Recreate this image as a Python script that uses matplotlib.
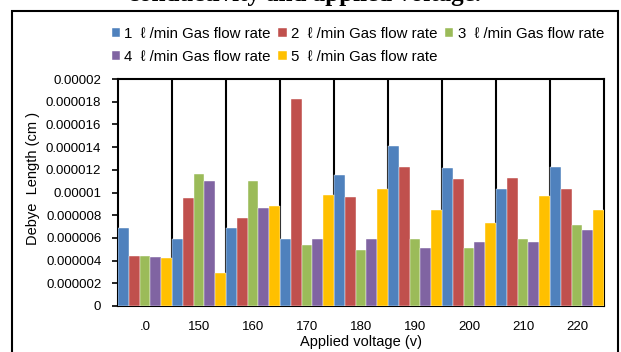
"""
Debye length vs applied voltage, grouped bars
"""
import matplotlib.pyplot as plt
from matplotlib.patches import Rectangle

plt.rcParams['font.family'] = ['Liberation Sans', 'DejaVu Sans']

#       ----数据-----
voltages = ['.0', '150', '160', '170', '180', '190', '200', '210', '220']
series_names = ['1  ℓ /min Gas flow rate', '2  ℓ /min Gas flow rate', '3  ℓ /min Gas flow rate',
                '4  ℓ /min Gas flow rate', '5  ℓ /min Gas flow rate']
rate1 = [6.9e-6, 5.9e-6, 6.9e-6, 5.9e-6, 11.55e-6, 14.08e-6, 12.17e-6, 10.35e-6, 12.26e-6]
rate2 = [4.4e-6, 9.5e-6, 7.77e-6, 18.2e-6, 9.56e-6, 12.26e-6, 11.2e-6, 11.29e-6, 10.35e-6]
rate3 = [4.4e-6, 11.67e-6, 11.03e-6, 5.37e-6, 4.96e-6, 5.92e-6, 5.13e-6, 5.92e-6, 7.18e-6]
rate4 = [4.28e-6, 11.03e-6, 8.62e-6, 5.92e-6, 5.92e-6, 5.13e-6, 5.63e-6, 5.63e-6, 6.72e-6]
rate5 = [4.19e-6, 2.87e-6, 8.8e-6, 9.77e-6, 10.35e-6, 8.42e-6, 7.27e-6, 9.68e-6, 8.42e-6]
colors = ['#4F81BD', '#C0504D', '#9BBB59', '#8064A2', '#FFC000']

#       ----画图-----
fig = plt.figure(figsize=(6.21, 3.52), dpi=100)
ax = fig.add_axes([118 / 621, 1 - 306 / 352, 486 / 621, 227 / 352])

n = len(voltages)
w = 1 / 5
bars = []
for k, vals in enumerate([rate1, rate2, rate3, rate4, rate5]):
    xs = [i - 0.5 + w * (k + 0.5) for i in range(n)]
    b = ax.bar(xs, vals, width=w, color=colors[k], label=series_names[k], zorder=3,
               edgecolor='white', linewidth=0.3)
    bars.append(b)

ax.set_xlim(-0.5, n - 0.5)
ax.set_ylim(0, 2e-5)
ax.set_xticks(range(n))
ax.set_xticklabels(voltages, fontsize=9.5)
ax.tick_params(axis='x', length=0, pad=11)

yt = [i * 2e-6 for i in range(11)]
ax.set_yticks(yt)
ylabels = ['0'] + [('%.6f' % v).rstrip('0').rstrip('.') for v in yt[1:]]
ax.set_yticklabels(ylabels, fontsize=9.5)
ax.tick_params(axis='y', length=4, width=1.2, direction='out', pad=8)

# vertical lines between groups
for i in range(n - 1):
    ax.axvline(i + 0.5, color='black', lw=1.5, zorder=1)

for s in ax.spines.values():
    s.set_linewidth(1.5)
    s.set_color('black')

ax.set_xlabel('Applied voltage (v)', fontsize=10.5, labelpad=1)
ax.set_ylabel('Debye  Length (cm )', fontsize=10.5)
ax.yaxis.set_label_coords(-0.16, 0.56)

order = [0, 3, 1, 4, 2]
fig.legend([bars[i] for i in order], [series_names[i] for i in order],
           loc='upper left', bbox_to_anchor=(104 / 621, 1 - 19 / 352), ncol=3,
           frameon=False, fontsize=10.8, handlelength=0.55, handleheight=0.55,
           handletextpad=0.3, columnspacing=0.5, labelspacing=0.65, borderpad=0)

# outer frame and clipped title
fig.patches.append(Rectangle((12 / 621, -0.05), (618 - 12) / 621, 1.05 - 11 / 352,
                             transform=fig.transFigure, fill=False, lw=1.5, ec='black'))
fig.text(0.49, 1 - 1 / 352, 'conductivity and applied voltage.', ha='center', va='baseline',
         fontsize=18, fontweight='bold', family='Liberation Serif')

plt.savefig('out.png', dpi=100)
